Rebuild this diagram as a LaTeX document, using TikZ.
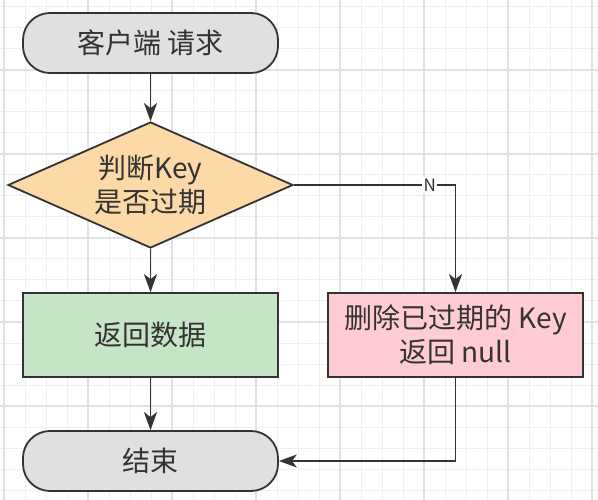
\documentclass[tikz,border=0pt]{standalone}
\usepackage{fontspec}
\setmainfont{Noto Sans CJK SC}
\usetikzlibrary{shapes.geometric,arrows.meta}
\definecolor{gridminor}{HTML}{EFEFEF}
\definecolor{gridmajor}{HTML}{E2E2E2}
\definecolor{edge}{HTML}{333333}
\definecolor{greyfill}{HTML}{E0E0E0}
\definecolor{orangefill}{HTML}{FDD9A8}
\definecolor{greenfill}{HTML}{C6E5C6}
\definecolor{pinkfill}{HTML}{FFCCD3}
\definecolor{txt}{HTML}{333333}
\tikzset{
  base/.style={draw=edge, line width=1.8pt, text=txt, font=\fontsize{28}{34}\selectfont, align=center, inner sep=0pt},
  terminal/.style={base, fill=greyfill, rounded corners=27pt, minimum width=255pt, minimum height=60pt},
  procbox/.style={base, rectangle, minimum width=255pt, minimum height=84pt},
  decision/.style={base, diamond, fill=orangefill, aspect=2.26, minimum width=285pt, minimum height=126pt},
  arr/.style={draw=edge, line width=1.8pt, -{Stealth[length=18pt,width=13pt,inset=5pt]}},
  lbl/.style={fill=white, text=txt, inner sep=1.5pt, font=\fontsize{17}{17}\selectfont}
}
\begin{document}
\begin{tikzpicture}[x=1pt,y=-1pt]
\useasboundingbox (0,0) rectangle (598,500);
\fill[white] (0,0) rectangle (598,500);
\foreach \i in {0,...,28} {
  \draw[gridminor, line width=1pt] ({4+21*\i},0) -- ({4+21*\i},500);
}
\foreach \i in {0,...,23} {
  \draw[gridminor, line width=1pt] (0,{7+21*\i}) -- (598,{7+21*\i});
}
\foreach \i in {0,...,7} {
  \draw[gridmajor, line width=1.2pt] ({4+84*\i},0) -- ({4+84*\i},500);
}
\foreach \i in {0,...,5} {
  \draw[gridmajor, line width=1.2pt] (0,{70+84*(\i-1)}) -- (598,{70+84*(\i-1)});
}
\node[terminal] (start) at (150.5,43) {客户端 请求};
\node[decision] (dec) at (150.5,185) {判断Key\\是否过期};
\node[procbox, fill=greenfill] (ok) at (150.5,335) {返回数据};
\node[procbox, fill=pinkfill] (del) at (455.5,335) {删除已过期的 Key\\返回 null};
\node[terminal] (stop) at (150.5,461) {结束};
\draw[arr] (start.south) -- (dec.north);
\draw[arr] (dec.south) -- (ok.north);
\draw[arr] (ok.south) -- (stop.north);
\draw[arr] (dec.east) -| node[lbl, pos=0.42] {N} (del.north);
\draw[arr] (del.south) |- (stop.east);
\end{tikzpicture}
\end{document}
